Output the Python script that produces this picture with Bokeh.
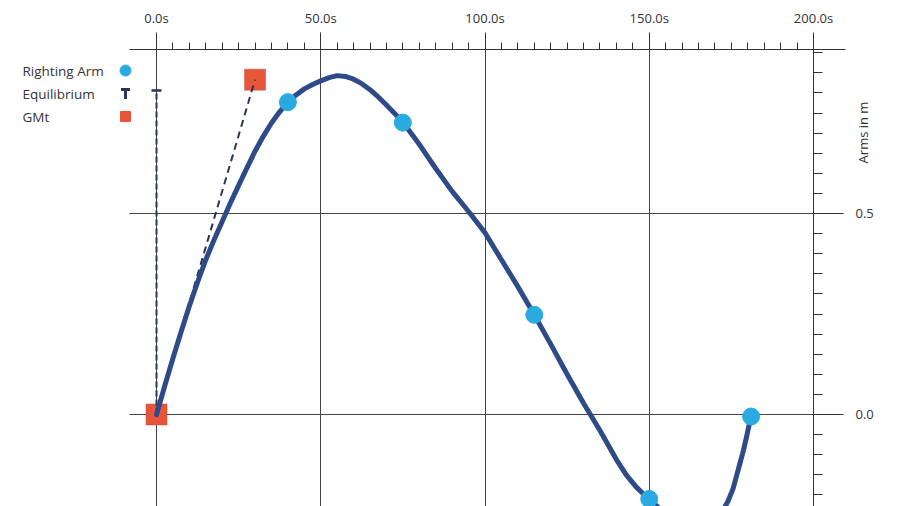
import math
from bokeh.plotting import figure
from bokeh.models import Range1d, FixedTicker
from bokeh.core.properties import value
from bokeh.embed import file_html
from bokeh.resources import INLINE

# ---------------- data ----------------
x_ticks = [0, 50, 100, 150, 200]
x_tick_labels = ["0.0s", "50.0s", "100.0s", "150.0s", "200.0s"]
x_minor_ticks = [0, 5, 10, 15, 20, 25, 30, 35, 40, 45, 50, 55, 60, 65, 70, 75, 80, 85, 90, 95,
                 100, 105, 110, 115, 120, 125, 130, 135, 140, 145, 150, 155, 160, 165, 170, 175,
                 180, 185, 190, 195, 200]
y_ticks = [0.0, 0.5]
y_tick_labels = ["0.0", "0.5"]
y_minor_ticks = [-0.25, -0.2, -0.15, -0.1, -0.05, 0.0, 0.05, 0.1, 0.15, 0.2, 0.25, 0.3, 0.35,
                 0.4, 0.45, 0.5, 0.55, 0.6, 0.65, 0.7, 0.75, 0.8, 0.85, 0.9]

# Righting arm curve
curve_t = [0, 2.5, 5, 7.5, 10, 12.5, 15, 17.5, 20, 22.5, 25, 27.5, 30, 32.5, 35, 37.5, 40,
           42.5, 45, 47.5, 50, 52.5, 55, 57.5, 60, 62.5, 65, 67.5, 70, 72.5, 75, 80, 85, 90,
           95, 100, 105, 110, 115, 120, 125, 130, 135, 140, 143, 146, 148, 150, 152.5, 155,
           160, 165, 170, 172, 174, 175.5, 177, 178.5, 179.5, 180.3, 181]
curve_arm = [0.0, 0.071, 0.14, 0.206, 0.27, 0.329, 0.385, 0.434, 0.48, 0.526, 0.57, 0.613,
             0.655, 0.692, 0.725, 0.753, 0.777, 0.795, 0.81, 0.821, 0.83, 0.838, 0.843, 0.841,
             0.834, 0.823, 0.808, 0.79, 0.77, 0.749, 0.727, 0.672, 0.612, 0.555, 0.505,
             0.452, 0.385, 0.318, 0.248, 0.175, 0.10, 0.028, -0.04, -0.112, -0.15, -0.18,
             -0.196, -0.21, -0.229, -0.25, -0.278, -0.285, -0.262, -0.245, -0.215, -0.185,
             -0.14, -0.095, -0.06, -0.03, -0.005]

# Righting arm markers
dot_t = [40, 75, 115, 150, 181]
dot_arm = [0.777, 0.726, 0.248, -0.21, -0.005]

# GMt
gmt_t = [0, 30]
gmt_arm = [0.0, 0.833]

# Equilibrium
eq_t = [0, 0]
eq_arm = [0.0, 0.806]

legend_labels = ["Righting Arm", "Equilibrium", "GMt"]
axis_title = "Arms in m"

# ---------------- style / layout ----------------
NAVY = "#2f4a88"
CYAN = "#29abe2"
ORANGE = "#e8563a"
DASH = "#2a3456"
INK = "#333333"
GRID = "#444444"
FONT = "Open Sans"

W, H = 900, 506
TOP = 49                       # pixel row of the top axis
PX_X, ORIGIN_X = 3.285, 156    # px per second, pixel column of t = 0
PX_Y, ORIGIN_Y = 402.0, 414    # px per metre, pixel row of arm = 0

X0 = -ORIGIN_X / PX_X
X1 = (W - ORIGIN_X) / PX_X
Y1 = (ORIGIN_Y - TOP) / PX_Y
Y0 = (ORIGIN_Y - H) / PX_Y
AX_START = (129 - ORIGIN_X) / PX_X
AX_END = (845 - ORIGIN_X) / PX_X

def dx(px):
    return (px - ORIGIN_X) / PX_X

def dy(py):
    return (ORIGIN_Y - py) / PX_Y

p = figure(width=W, height=H, output_backend="svg", toolbar_location=None,
           x_range=Range1d(X0, X1), y_range=Range1d(Y0, Y1),
           x_axis_location="above", y_axis_location="right",
           min_border_left=0, min_border_bottom=0, min_border_top=TOP, min_border_right=0)
p.outline_line_color = None
p.background_fill_color = "white"
p.border_fill_color = "white"

# top axis
xa = p.xaxis[0]
xa.ticker = FixedTicker(ticks=x_ticks, minor_ticks=x_minor_ticks)
xa.major_label_overrides = {t: l for t, l in zip(x_ticks, x_tick_labels)}
xa.bounds = (AX_START, AX_END)
xa.major_tick_out = 17
xa.major_tick_in = 0
xa.minor_tick_out = 7
xa.minor_tick_in = 0
xa.major_label_standoff = 6
xa.axis_line_color = INK
xa.major_tick_line_color = INK
xa.minor_tick_line_color = INK
xa.major_label_text_font = FONT
xa.major_label_text_font_size = "13px"
xa.major_label_text_color = INK

# right axis, fixed at t = 200 s
ya = p.yaxis[0]
ya.fixed_location = x_ticks[-1]
ya.ticker = FixedTicker(ticks=y_ticks, minor_ticks=y_minor_ticks)
ya.major_label_overrides = {t: l for t, l in zip(y_ticks, y_tick_labels)}
ya.major_tick_out = 30
ya.major_tick_in = 0
ya.minor_tick_out = 9
ya.minor_tick_in = 0
ya.major_label_standoff = 12
ya.axis_line_color = INK
ya.major_tick_line_color = INK
ya.minor_tick_line_color = INK
ya.major_label_text_font = FONT
ya.major_label_text_font_size = "13px"
ya.major_label_text_color = INK

# grids
p.xgrid.ticker = FixedTicker(ticks=x_ticks)
p.ygrid.ticker = FixedTicker(ticks=y_ticks)
p.xgrid.cross_bounds = (Y0, Y1 + 17 / PX_Y)
p.ygrid.cross_bounds = (AX_START, x_ticks[-1])
for g in (p.xgrid, p.ygrid):
    g.grid_line_color = GRID
    g.grid_line_width = 1
    g.grid_line_alpha = 1.0

# axis title
p.text(x=[dx(862)], y=[dy(132)], text=[axis_title], angle=math.pi / 2,
       text_align="center", text_baseline="middle", text_font=value(FONT),
       text_font_size="13px", text_color=INK)

# GMt squares first
p.scatter(gmt_t, gmt_arm, marker="square", size=21, fill_color=ORANGE,
          line_color="#c94a30", line_width=0.5)

# dashed lines
p.line(eq_t, eq_arm, line_color=DASH, line_width=2, line_dash="6 3")
p.line(gmt_t, gmt_arm, line_color=DASH, line_width=2, line_dash="7 5")
p.scatter([eq_t[-1]], [eq_arm[-1]], marker="dash", size=10, line_color=DASH, line_width=2.5)

# righting arm curve + dots
p.line(curve_t, curve_arm, line_color=NAVY, line_width=5, line_join="round", line_cap="round")
p.scatter(dot_t, dot_arm, marker="circle", size=17, fill_color=CYAN, line_color=CYAN)

# legend (labels left, glyphs right)
leg_rows = [70, 93, 116]
leg_y = [dy(r) for r in leg_rows]
p.text(x=[dx(22)] * 3, y=leg_y, text=legend_labels, text_font=value(FONT),
       text_font_size="13.5px", text_baseline="middle", text_align="left", text_color=INK)
gx = dx(125)
p.scatter([gx], [leg_y[0]], marker="circle", size=11, fill_color=CYAN, line_color=CYAN)
p.scatter([gx], [dy(leg_rows[1] - 4)], marker="dash", size=9, line_color=DASH, line_width=3)
p.scatter([gx], [dy(leg_rows[1] + 1)], marker="dash", angle=math.pi / 2, size=9,
          line_color=DASH, line_width=3)
p.scatter([gx], [leg_y[2]], marker="square", size=10, fill_color=ORANGE, line_color=ORANGE)

open("out.html", "w").write(file_html(p, INLINE))
